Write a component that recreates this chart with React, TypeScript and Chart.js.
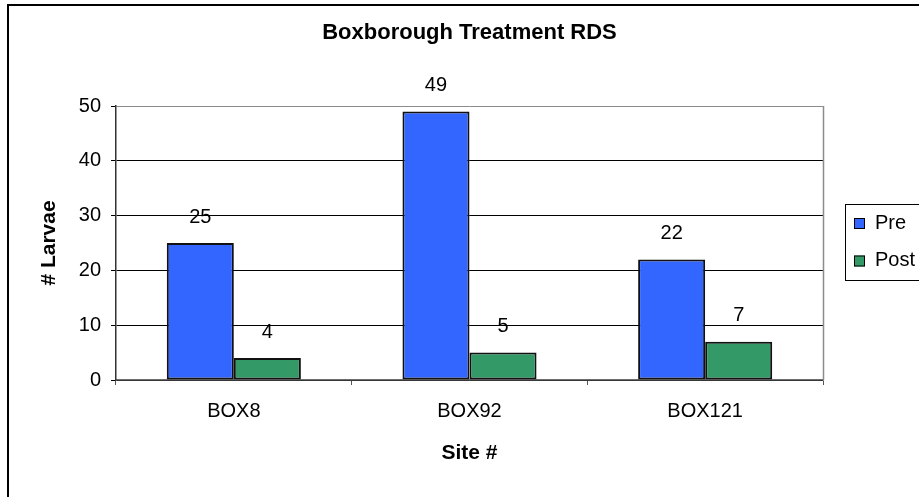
import React, { useEffect, useRef } from 'react';
import { Chart, registerables } from 'chart.js';

Chart.register(...registerables);

const chartTitle = 'Boxborough Treatment RDS';
const xTitle = 'Site #';
const yTitle = '# Larvae';
const categories = ['BOX8', 'BOX92', 'BOX121'];
const seriesNames = ['Pre', 'Post'];
const preValues = [25, 49, 22];
const postValues = [4, 5, 7];
const yTicks = [0, 10, 20, 30, 40, 50];
const seriesColors = ['#3366FF', '#339966'];

const FONT = '"Liberation Sans", Arial, Helvetica, sans-serif';

const decorPlugin = {
  id: 'decor',
  beforeDraw(chart: any) {
    const ctx = chart.ctx;
    ctx.save();
    ctx.fillStyle = '#ffffff';
    ctx.fillRect(0, 0, chart.width, chart.height);
    ctx.restore();
  },
  beforeDatasetsDraw(chart: any) {
    const { ctx, chartArea } = chart;
    ctx.save();
    ctx.strokeStyle = '#8c8c8c';
    ctx.lineWidth = 1.5;
    ctx.beginPath();
    ctx.moveTo(chartArea.right + 0.5, chartArea.top);
    ctx.lineTo(chartArea.right + 0.5, chartArea.bottom);
    ctx.stroke();
    ctx.restore();
  },
  afterDatasetsDraw(chart: any) {
    const ctx = chart.ctx;
    ctx.save();
    ctx.fillStyle = '#000';
    ctx.font = `20px ${FONT}`;
    ctx.textAlign = 'center';
    ctx.textBaseline = 'middle';
    chart.data.datasets.forEach((ds: any, i: number) => {
      const meta = chart.getDatasetMeta(i);
      meta.data.forEach((el: any, j: number) => {
        ctx.fillText(String(ds.data[j]), el.x, el.y - 26);
      });
    });
    ctx.restore();
  },
  afterDraw(chart: any) {
    const ctx = chart.ctx;
    ctx.save();
    // outer chart frame
    ctx.strokeStyle = '#000';
    ctx.lineWidth = 2;
    ctx.beginPath();
    ctx.moveTo(8, chart.height + 5);
    ctx.lineTo(8, 5);
    ctx.lineTo(chart.width + 5, 5);
    ctx.stroke();
    // legend box
    ctx.lineWidth = 1;
    ctx.strokeStyle = '#000';
    ctx.strokeRect(845.5, 204.5, 120, 76);
    ctx.font = `20px ${FONT}`;
    ctx.textAlign = 'left';
    ctx.textBaseline = 'middle';
    chart.data.datasets.forEach((ds: any, i: number) => {
      const cy = 223 + i * 37.5;
      ctx.fillStyle = ds.backgroundColor;
      ctx.fillRect(854, cy - 5, 11, 11);
      ctx.strokeStyle = '#000';
      ctx.lineWidth = 1;
      ctx.strokeRect(854.5, cy - 4.5, 10, 10);
      ctx.fillStyle = '#000';
      ctx.fillText(ds.label, 875, cy);
    });
    ctx.restore();
  },
};

export default function App() {
  const canvasRef = useRef<HTMLCanvasElement | null>(null);

  useEffect(() => {
    const canvas = canvasRef.current;
    if (!canvas) return;
    Chart.defaults.color = '#000';
    Chart.defaults.font.family = FONT;
    const chart = new Chart(canvas, {
      type: 'bar',
      data: {
        labels: categories,
        datasets: [
          {
            label: seriesNames[0],
            data: preValues,
            backgroundColor: seriesColors[0],
            borderColor: '#111',
            borderWidth: 2,
            borderSkipped: false,
            categoryPercentage: 0.569,
            barPercentage: 1,
          },
          {
            label: seriesNames[1],
            data: postValues,
            backgroundColor: seriesColors[1],
            borderColor: '#111',
            borderWidth: 2,
            borderSkipped: false,
            categoryPercentage: 0.569,
            barPercentage: 1,
          },
        ],
      },
      options: {
        responsive: false,
        animation: false,
        devicePixelRatio: 1,
        layout: { padding: { left: 0, right: 96, top: 0, bottom: 0 } },
        plugins: {
          legend: { display: false },
          tooltip: { enabled: false },
          title: {
            display: true,
            text: chartTitle,
            fullSize: false,
            color: '#000',
            font: { size: 22, weight: 'bold', family: FONT },
            padding: { top: 20, bottom: 59.6 },
          },
        },
        scales: {
          x: {
            type: 'category',
            offset: true,
            grid: {
              offset: true,
              drawOnChartArea: false,
              drawTicks: true,
              tickLength: 5,
              color: '#555',
              lineWidth: 1,
            },
            border: { display: true, color: '#6e6e6e', width: 1.5 },
            ticks: { font: { size: 20, family: FONT }, color: '#000', padding: 14, maxRotation: 0 },
            title: {
              display: true,
              text: xTitle,
              color: '#000',
              font: { size: 21, weight: 'bold', family: FONT },
              padding: { top: 0, bottom: 31.4 },
            },
            afterFit: (s: any) => {
              s.height = 117;
            },
          },
          y: {
            min: 0,
            max: 50,
            afterBuildTicks: (s: any) => {
              s.ticks = yTicks.map((v) => ({ value: v }));
            },
            grid: {
              color: (c: any) => (c.tick && c.tick.value === 50 ? '#8c8c8c' : '#000'),
              lineWidth: 1,
              drawTicks: true,
              tickLength: 5,
              tickColor: '#000',
            },
            border: { display: true, color: '#333', width: 1.5 },
            ticks: { font: { size: 20, family: FONT }, color: '#000', padding: 10 },
            title: {
              display: true,
              text: yTitle,
              color: '#000',
              font: { size: 21, weight: 'bold', family: FONT },
              padding: { top: 36.4, bottom: 0 },
            },
            afterFit: (s: any) => {
              s.width = 116;
            },
          },
        },
      },
      plugins: [decorPlugin],
    });
    return () => chart.destroy();
  }, []);

  return (
    <div style={{ position: 'absolute', left: 0, top: 0, width: 919, height: 497, background: '#fff' }}>
      <canvas ref={canvasRef} width={919} height={497} style={{ display: 'block' }} />
    </div>
  );
}
